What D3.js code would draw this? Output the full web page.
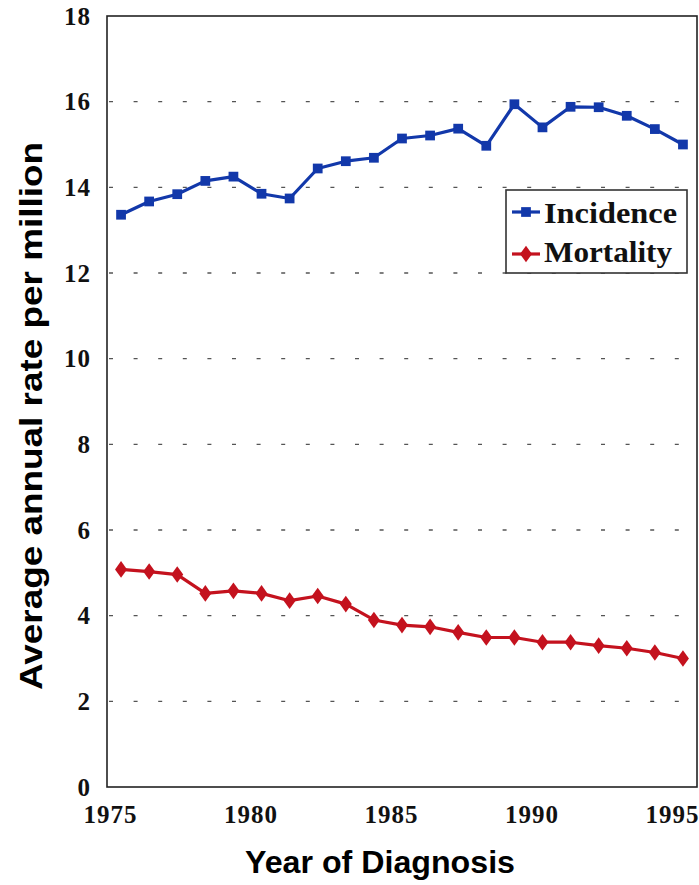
<!DOCTYPE html>
<html>
<head>
<meta charset="utf-8">
<script src="https://cdn.jsdelivr.net/npm/d3@7"></script>
<style>
  html, body { margin: 0; padding: 0; background: #fff; }
  svg { display: block; }
</style>
</head>
<body>
<svg id="chart" width="699" height="885"></svg>
<script>
const years = [1975,1976,1977,1978,1979,1980,1981,1982,1983,1984,1985,1986,1987,1988,1989,1990,1991,1992,1993,1994,1995];
const incidence = [13.36,13.67,13.84,14.15,14.25,13.85,13.74,14.44,14.61,14.69,15.14,15.21,15.37,14.97,15.94,15.40,15.88,15.87,15.67,15.36,15.00];
const mortality = [5.08,5.03,4.96,4.52,4.58,4.52,4.35,4.46,4.27,3.90,3.78,3.74,3.61,3.49,3.49,3.38,3.38,3.30,3.24,3.14,3.00];
const xTicks = [1975,1980,1985,1990,1995];
const yTicks = [0,2,4,6,8,10,12,14,16,18];
const seriesNames = ["Incidence","Mortality"];

const blue = "#1238aa";
const red = "#c4121e";

const svg = d3.select("#chart");
const L = 107, R = 697, T = 16, B = 787;

const x = d3.scaleLinear().domain([1975, 1996]).range([L, R]);
const y = d3.scaleLinear().domain([0, 18]).range([B, T]);

// gridlines
svg.append("g").selectAll("line")
  .data(yTicks.filter(d => d > 0 && d < 18))
  .join("line")
  .attr("x1", L + 2).attr("x2", R)
  .attr("y1", d => y(d)).attr("y2", d => y(d))
  .attr("stroke", "#555").attr("stroke-width", 1.4)
  .attr("stroke-dasharray", "4,20.6");

// frame
svg.append("rect")
  .attr("x", L).attr("y", T).attr("width", R - L).attr("height", B - T)
  .attr("fill", "none").attr("stroke", "#222").attr("stroke-width", 1.6);

// y axis labels
const yAxis = svg.append("g").attr("transform", `translate(${L},0)`)
  .call(d3.axisLeft(y).tickValues(yTicks).tickSize(0).tickPadding(16).tickFormat(d3.format("d")));
yAxis.select(".domain").remove();
yAxis.selectAll("text")
  .attr("font-family", "'Liberation Serif', serif")
  .attr("font-weight", "bold").attr("font-size", 25).attr("fill", "#111")
  .attr("letter-spacing", 1);

// x axis labels
const xAxis = svg.append("g").attr("transform", `translate(3,${B})`)
  .call(d3.axisBottom(x).tickValues(xTicks).tickSize(0).tickPadding(18).tickFormat(d3.format("d")));
xAxis.select(".domain").remove();
xAxis.selectAll("text")
  .attr("font-family", "'Liberation Serif', serif")
  .attr("font-weight", "bold").attr("font-size", 25).attr("fill", "#111")
  .attr("letter-spacing", 1);

// lines
const line = d3.line().x((d, i) => x(years[i] + 0.5)).y(d => y(d));

svg.append("path").datum(incidence)
  .attr("d", line).attr("fill", "none").attr("stroke", blue).attr("stroke-width", 3.2)
  .attr("stroke-linejoin", "round");
svg.append("path").datum(mortality)
  .attr("d", line).attr("fill", "none").attr("stroke", red).attr("stroke-width", 3.2)
  .attr("stroke-linejoin", "round");

const sq = d3.symbol().type(d3.symbolSquare).size(95);
const dia = d3.symbol().type(d3.symbolDiamond).size(80);

svg.append("g").selectAll("path").data(incidence).join("path")
  .attr("d", sq)
  .attr("transform", (d, i) => `translate(${x(years[i] + 0.5)},${y(d)})`)
  .attr("fill", blue);
svg.append("g").selectAll("path").data(mortality).join("path")
  .attr("d", dia)
  .attr("transform", (d, i) => `translate(${x(years[i] + 0.5)},${y(d)}) scale(1.25,1)`)
  .attr("fill", red);

// legend
const lg = svg.append("g");
lg.append("rect").attr("x", 506).attr("y", 190).attr("width", 181).attr("height", 83)
  .attr("fill", "#fff").attr("stroke", "#333").attr("stroke-width", 1.6);
const legendItems = [
  { name: seriesNames[0], color: blue, sym: sq, ly: 212, by: 223, w: 133, sx: 1 },
  { name: seriesNames[1], color: red, sym: dia, ly: 254, by: 262, w: 128, sx: 1.25 }
];
legendItems.forEach(it => {
  lg.append("line").attr("x1", 512).attr("x2", 540).attr("y1", it.ly).attr("y2", it.ly)
    .attr("stroke", it.color).attr("stroke-width", 3.2);
  lg.append("path").attr("d", it.sym)
    .attr("transform", `translate(526,${it.ly}) scale(${it.sx},1)`).attr("fill", it.color);
  lg.append("text").attr("x", 544).attr("y", it.by)
    .attr("font-family", "'Liberation Serif', serif").attr("font-weight", "bold")
    .attr("font-size", 29).attr("fill", "#111")
    .attr("textLength", it.w).attr("lengthAdjust", "spacingAndGlyphs")
    .text(it.name);
});

// axis titles
svg.append("text")
  .attr("x", 380).attr("y", 873).attr("text-anchor", "middle")
  .attr("font-family", "'Liberation Sans', Arial, sans-serif").attr("font-weight", "bold")
  .attr("font-size", 31).attr("fill", "#000")
  .attr("textLength", 270).attr("lengthAdjust", "spacingAndGlyphs")
  .text("Year of Diagnosis");

svg.append("text")
  .attr("transform", "translate(42,416) rotate(-90)").attr("text-anchor", "middle")
  .attr("font-family", "'Liberation Sans', Arial, sans-serif").attr("font-weight", "bold")
  .attr("font-size", 31).attr("fill", "#000")
  .attr("textLength", 548).attr("lengthAdjust", "spacingAndGlyphs")
  .text("Average annual rate per million");
</script>
</body>
</html>
